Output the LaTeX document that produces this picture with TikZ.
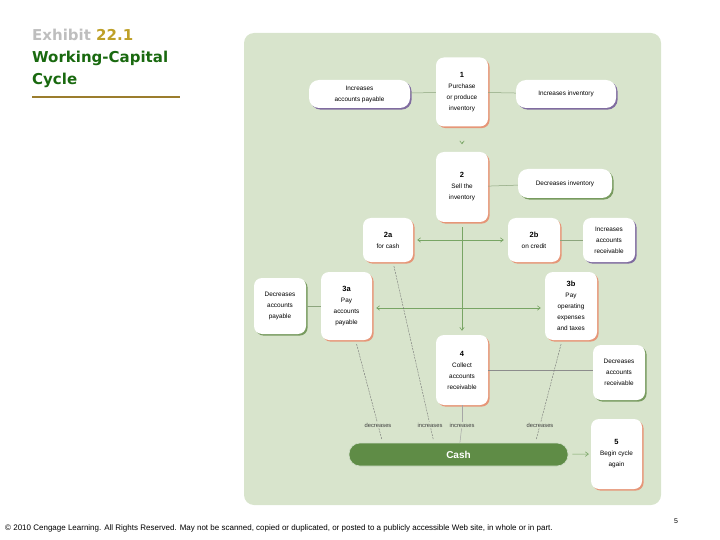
\documentclass[tikz,border=0pt]{standalone}
\usepackage{fontspec}
\setmainfont{Liberation Sans}
\newfontfamily\titlefont{DejaVu Sans}
\usetikzlibrary{arrows.meta,positioning,shadows,calc}

\definecolor{panel}{RGB}{216,228,204}
\definecolor{shsalmon}{RGB}{230,150,120}
\definecolor{shpurple}{RGB}{128,108,160}
\definecolor{shgreen}{RGB}{120,155,95}
\definecolor{arrowgreen}{RGB}{120,165,100}
\definecolor{linkgray}{RGB}{140,165,125}
\definecolor{cashgreen}{RGB}{95,140,70}
\definecolor{titlegray}{RGB}{190,190,190}
\definecolor{titlegold}{RGB}{190,160,40}
\definecolor{titlegreen}{RGB}{25,105,15}
\definecolor{rulegold}{RGB}{155,125,45}

\newcommand{\stepno}[1]{{\bfseries\fontsize{7.5}{9}\selectfont #1}}

\begin{document}
\begin{tikzpicture}[x=1pt, y=-1pt,
      stepbox/.style = {rectangle, rounded corners=8pt, fill=white, minimum width=52pt, minimum height=69pt, inner sep=1pt, align=center, font=\fontsize{6.4}{11}\selectfont, drop shadow={shadow xshift=1.6pt, shadow yshift=-1.6pt, fill=shsalmon, opacity=1}},
      effect/.style = {rectangle, rounded corners=10pt, fill=white, inner sep=1pt, align=center, font=\fontsize{6.4}{11}\selectfont, drop shadow={shadow xshift=1.6pt, shadow yshift=-1.6pt, fill=#1, opacity=1}},
      cashbar/.style = {rectangle, rounded corners=11pt, fill=cashgreen, draw=white!70!cashgreen, line width=0.6pt, minimum width=219pt, minimum height=23pt, text=white, font=\bfseries\fontsize{10}{12}\selectfont},
      flowlbl/.style = {inner sep=1pt, text=black!75, font=\fontsize{5.8}{6}\selectfont},
      link/.style = {draw=linkgray, line width=0.5pt},
      arrow/.style = {-{Straight Barb[length=3pt,width=4.5pt]}, draw=arrowgreen, line width=0.6pt},
      dashline/.style = {draw=black!55, line width=0.4pt, dash pattern=on 2pt off 1pt}
    ]
    \useasboundingbox (0,0) rectangle (720,540);
    \fill[panel, rounded corners=10pt] (244,33) rectangle (661,505);

    % title
    \node[anchor=north west, inner sep=0, align=left, font=\titlefont\bfseries\fontsize{15}{22}\selectfont] (ttl) at (32,29)
      {\textcolor{titlegray}{Exhibit} \textcolor{titlegold}{22.1}\\\textcolor{titlegreen}{Working-Capital}\\\textcolor{titlegreen}{Cycle}};
    \draw[rulegold, line width=2.5pt] (32,97) -- (180,97);

    % steps and effects
    \node[stepbox] (n1) at (462,92) {\stepno{1}\\Purchase\\or produce\\inventory};
    \node[effect=shpurple, minimum width=101pt, minimum height=28pt] (iap) at (359.5,94) {Increases\\accounts payable};
    \node[effect=shpurple, minimum width=100pt, minimum height=28pt] (iinv) at (566,94) {Increases inventory};
    \node[stepbox, minimum height=70pt] (n2) at (462,187) {\stepno{2}\\Sell the\\inventory};
    \node[effect=shgreen, minimum width=94pt, minimum height=29pt] (dinv) at (565,183.5) {Decreases inventory};
    \node[stepbox, minimum width=50pt, minimum height=44pt] (n2a) at (388,240) {\stepno{2a}\\for cash};
    \node[stepbox, minimum height=44pt] (n2b) at (534,240) {\stepno{2b}\\on credit};
    \node[effect=shpurple, minimum width=52pt, minimum height=44pt, rounded corners=8pt] (iar) at (609,240) {Increases\\accounts\\receivable};
    \node[stepbox, minimum width=51pt, minimum height=68pt] (n3a) at (346.5,306) {\stepno{3a}\\Pay\\accounts\\payable};
    \node[effect=shgreen, minimum width=52pt, minimum height=56pt, rounded corners=8pt] (dap) at (280,306) {Decreases\\accounts\\payable};
    \node[stepbox, minimum height=68pt] (n3b) at (571,306) {\stepno{3b}\\Pay\\operating\\expenses\\and taxes};
    \node[stepbox, minimum height=70pt] (n4) at (462,370) {\stepno{4}\\Collect\\accounts\\receivable};
    \node[effect=shgreen, minimum width=52pt, minimum height=55pt, rounded corners=8pt] (dar) at (619,372.5) {Decreases\\accounts\\receivable};
    \node[cashbar] (cash) at (458.5,454.5) {Cash};
    \node[stepbox, minimum width=51pt, minimum height=70pt] (n5) at (616.5,454) {\stepno{5}\\Begin cycle\\again};

    % flow labels
    \node[flowlbl] (dec1) at (378,425) {decreases};
    \node[flowlbl] (inc1) at (430,425) {increases};
    \node[flowlbl] (inc2) at (462,425) {increases};
    \node[flowlbl] (dec2) at (540,425) {decreases};

    % connectors
    \draw[link] (n1) -- (iap);
    \draw[link] (n1) -- (iinv);
    \draw[arrow, shorten <=15pt, shorten >=7.5pt] (n1) -- (n2);
    \draw[link] (n2) -- (dinv);
    \draw[arrow, {Straight Barb[length=3pt,width=4.5pt]}-{Straight Barb[length=3pt,width=4.5pt]}, shorten <=4pt, shorten >=4pt] (n2a) -- (n2b);
    \draw[link] (n2b) -- (iar);
    \draw[arrow, shorten <=5pt, shorten >=4pt] (n2) -- (n4);
    \draw[link] (dap) -- (n3a);
    \draw[arrow, {Straight Barb[length=3pt,width=4.5pt]}-{Straight Barb[length=3pt,width=4.5pt]}, shorten <=4pt, shorten >=4pt] ([yshift=-2pt]n3a.east) -- ([yshift=-2pt]n3b.west);
    \draw[link, draw=black!45] (n4) -- (n4 -| dar.west);
    \draw[arrow, shorten <=4pt, shorten >=2pt] (cash) -- (n5);

    \draw[dashline, shorten <=4pt] (n3a) -- (dec1);
    \draw[dashline] (dec1) -- ($(dec1)!-0.12!(n3a)$);
    \draw[dashline, shorten <=4pt] (n2a) -- (inc1);
    \draw[dashline] (inc1) -- ($(inc1)!-0.08!(n2a)$);
    \draw[link, draw=black!35] (n4) -- (inc2);
    \draw[link, draw=black!35] (inc2) -- (cash);
    \draw[dashline, shorten <=4pt] (n3b) -- (dec2);
    \draw[dashline] (dec2) -- ($(dec2)!-0.12!(n3b)$);

    % footer
    \node[anchor=west, inner sep=0, font=\fontsize{8}{9}\selectfont] (foot) at (5,528) {© 2010 Cengage Learning. All Rights Reserved. May not be scanned, copied or duplicated, or posted to a publicly accessible Web site, in whole or in part.};
    \node[inner sep=0, font=\fontsize{7}{8}\selectfont] (pg) at (676,521) {5};
\end{tikzpicture}
\end{document}
